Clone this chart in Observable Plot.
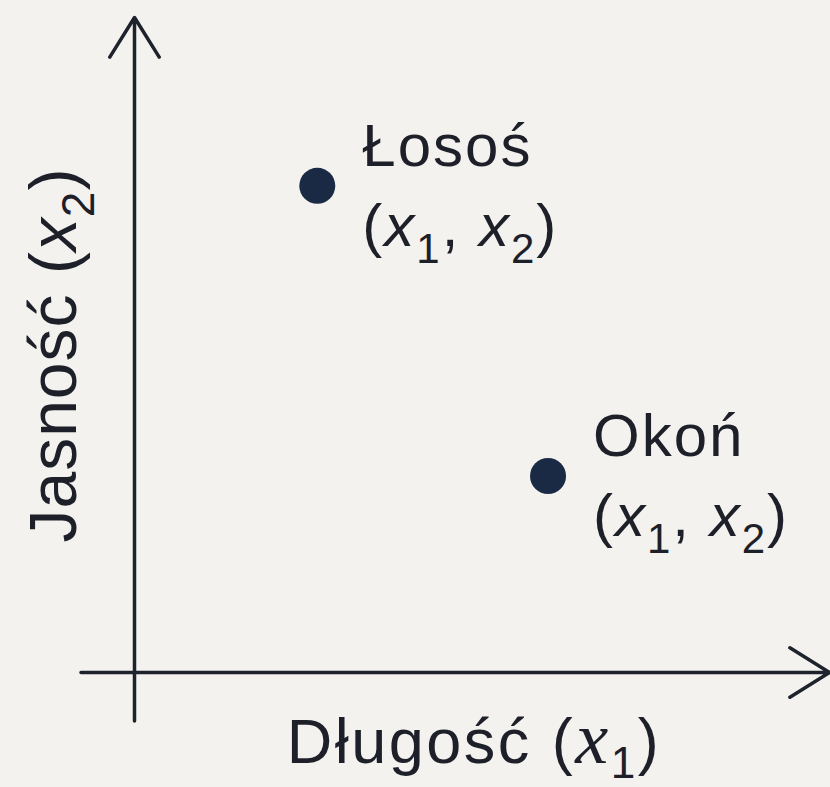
<!DOCTYPE html>
<html><head><meta charset="utf-8">
<script src="https://cdn.jsdelivr.net/npm/d3@7"></script>
<script src="https://cdn.jsdelivr.net/npm/@observablehq/plot@0.6"></script>
<style>html,body{margin:0;padding:0;background:#f3f2ee;}</style>
</head><body><div id="chart"></div>
<script>
// ---- data ----
const fish = ["Łosoś", "Okoń"];
const dlugosc = [2.63, 5.95];   // x1
const jasnosc = [7.43, 3.0];    // x2
const coordLabel = "(x1, x2)";
const xLabel = "Długość (x1)";
const yLabel = "Jasność (x2)";
const axisFrom = [-0.77, -0.74]; // where the x and y axis lines start
const axisTo = [10, 10];

const points = fish.map((name, i) => ({name, x: dlugosc[i], y: jasnosc[i]}));
const axes = [
  {x1: axisFrom[0], y1: 0, x2: axisTo[0], y2: 0},
  {x1: 0, y1: axisFrom[1], x2: 0, y2: axisTo[1]}
];

const ink = "#1d2029";
const FS = 60;

const plot = Plot.plot({
  width: 830, height: 787,
  marginLeft: 134, marginRight: 1, marginTop: 17, marginBottom: 115,
  x: {domain: [0, 10], axis: null},
  y: {domain: [0, 10], axis: null},
  style: {background: "#f3f2ee", fontFamily: "'Liberation Sans', Arial, sans-serif", color: ink},
  marks: [
    Plot.arrow(axes, {x1: "x1", y1: "y1", x2: "x2", y2: "y2", stroke: "#1e222c", strokeWidth: 3.5, headLength: 20, headAngle: 64}),
    Plot.dot(points, {x: "x", y: "y", r: 18, fill: "#1b2a44", stroke: "none"}),
    Plot.text(points, {x: "x", y: "y", text: "name", dx: 45, dy: -20, textAnchor: "start", lineAnchor: "bottom", fontSize: FS, fill: ink}),
    Plot.text(points, {x: "x", y: "y", text: () => coordLabel, dx: 45, dy: 60, textAnchor: "start", lineAnchor: "bottom", fontSize: FS, fill: ink}),
    Plot.text([xLabel], {frameAnchor: "bottom", dx: -8, dy: 90, textAnchor: "middle", lineAnchor: "bottom", fontSize: 63, fill: ink}),
    Plot.text([yLabel], {frameAnchor: "left", rotate: -90, dx: -59, dy: 10, textAnchor: "middle", lineAnchor: "bottom", fontSize: 66, fill: ink})
  ]
});

// turn "x1" into italic x with subscript digit, keeping real text
const NS = "http://www.w3.org/2000/svg";
function richify(textEl, fs, serif) {
  const s = textEl.textContent;
  while (textEl.firstChild) textEl.removeChild(textEl.firstChild);
  const segs = [];
  const re = /x(\d)/g; let last = 0, m;
  while ((m = re.exec(s))) {
    if (m.index > last) segs.push({t: s.slice(last, m.index), k: "plain"});
    segs.push({t: "x", k: "x"});
    segs.push({t: m[1], k: "sub"});
    last = m.index + m[0].length;
  }
  if (last < s.length) segs.push({t: s.slice(last), k: "plain"});
  const shift = fs * (serif ? 0.25 : 0.28);
  let pending = 0;
  for (const seg of segs) {
    const t = document.createElementNS(NS, "tspan");
    t.textContent = seg.t;
    let dy = pending; pending = 0;
    if (seg.k === "x") {
      t.setAttribute("font-style", "italic");
      if (serif) {
        t.setAttribute("font-family", "Liberation Serif");
        t.setAttribute("font-size", fs * 1.18);
      }
    } else if (seg.k === "sub") {
      t.setAttribute("font-size", fs * 0.7);
      dy += shift; pending = -shift;
    }
    if (dy) t.setAttribute("dy", dy);
    textEl.appendChild(t);
  }
}
plot.querySelectorAll("text").forEach(el => {
  const s = el.textContent;
  const fs = +(el.closest("g[font-size]")?.getAttribute("font-size")) || FS;
  const ls = s === yLabel ? 1 : s === xLabel ? 2.5 : 2;
  el.setAttribute("letter-spacing", ls);
  if (/x\d/.test(s)) richify(el, fs, s === xLabel);
});

document.getElementById("chart").appendChild(plot);
</script>
</body></html>
